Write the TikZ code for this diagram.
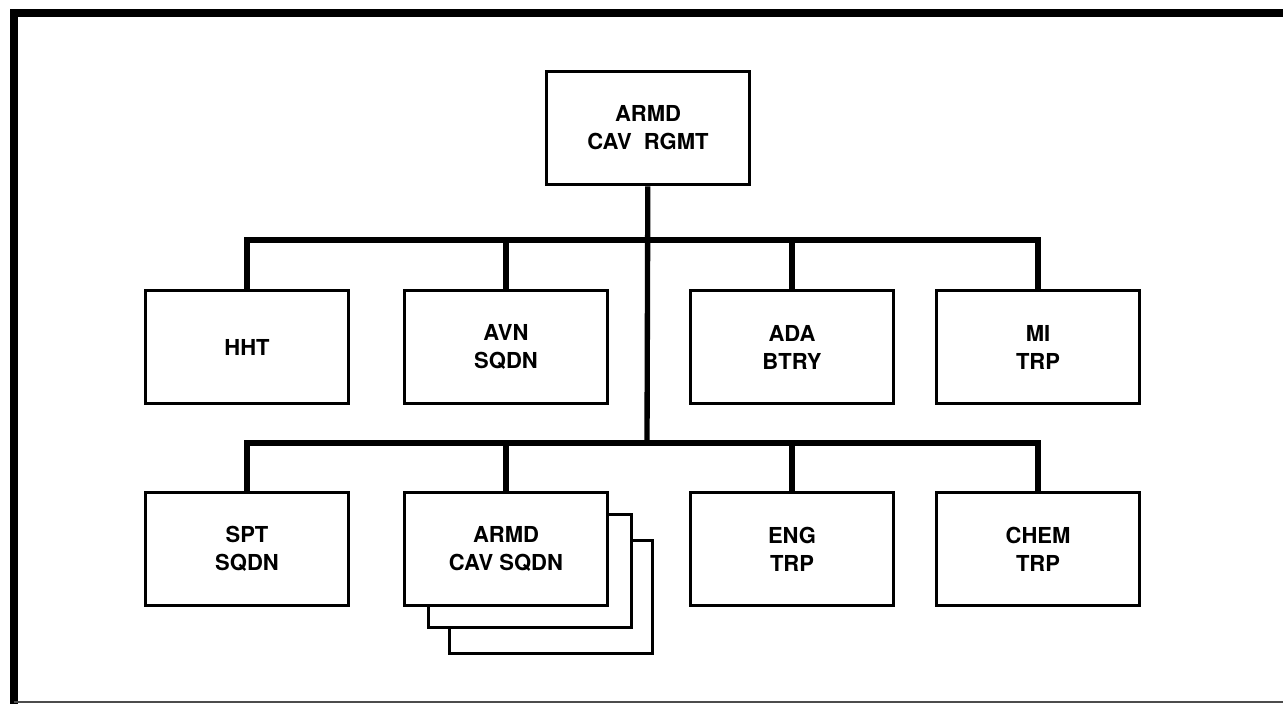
\documentclass[tikz,border=0pt]{standalone}
\usepackage{fontspec}
\setmainfont{TeX Gyre Heros}

\begin{document}
\begin{tikzpicture}[
  x=0.75pt, y=-0.75pt,
  unit/.style={rectangle, draw, line width=2.5pt, fill=white,
    minimum width=152pt, minimum height=85pt, inner sep=0pt,
    font=\fontsize{16.5}{21}\selectfont\bfseries, align=center},
  link/.style={line width=4pt}
]
  \useasboundingbox (0,0) rectangle (1283,704);
  % page frame
  \draw[line width=6pt] (1300,13) -- (13.5,13) -- (13.5,720);
  \draw[line width=0.8pt, black!70] (13.5,702) -- (1300,702);

  \node[unit] (rgmt) at (648,128) {ARMD\\CAV\hspace{0.55em}RGMT};

  \node[unit] (hht) at (247,347) {HHT};
  \node[unit] (avn) at (506,347) {AVN\\SQDN};
  \node[unit] (ada) at (792,347) {ADA\\BTRY};
  \node[unit] (mi)  at (1038,347) {MI\\TRP};

  \node[unit] (sqdnc) at (551,597) {};
  \node[unit] (sqdnb) at (530,571) {};
  \node[unit] (spt)  at (247,549) {SPT\\SQDN};
  \node[unit] (sqdn) at (506,549) {ARMD\\CAV SQDN};
  \node[unit] (eng)  at (792,549) {ENG\\TRP};
  \node[unit] (chem) at (1038,549) {CHEM\\TRP};

  \coordinate (bus1) at (647,240);
  \coordinate (bus2) at (647,443);

  \draw[link] (rgmt) -- (bus2);
  \draw[link] (hht.north) -- (hht.north |- bus1) -- (mi.north |- bus1) -- (mi.north);
  \draw[link] (avn.north) -- (avn.north |- bus1);
  \draw[link] (ada.north) -- (ada.north |- bus1);
  \draw[link] (spt.north) -- (spt.north |- bus2) -- (chem.north |- bus2) -- (chem.north);
  \draw[link] (sqdn.north) -- (sqdn.north |- bus2);
  \draw[link] (eng.north) -- (eng.north |- bus2);
\end{tikzpicture}
\end{document}
